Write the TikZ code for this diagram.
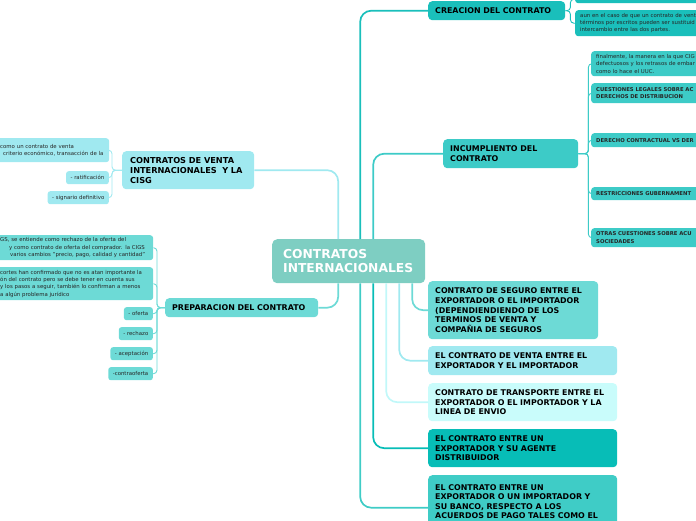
\documentclass[tikz,border=0pt]{standalone}
\usepackage{fontspec}
\setmainfont{DejaVu Sans}

\definecolor{rootc}{HTML}{7ECEC2}
\definecolor{cisgc}{HTML}{A0E9F0}
\definecolor{prepc}{HTML}{6DDAD6}
\definecolor{creac}{HTML}{1ABFBB}
\definecolor{incc}{HTML}{3DCBC7}
\definecolor{transc}{HTML}{C9FCFB}
\definecolor{agentc}{HTML}{07BDB7}
\definecolor{bancoc}{HTML}{3FCCC6}

\begin{document}
\begin{tikzpicture}[x=1pt,y=-1pt,
  box/.style={anchor=north west, rounded corners=4pt, align=left, inner xsep=7pt, inner ysep=2pt,
    text=black, font=\bfseries\fontsize{7.9}{9.6}\selectfont},
  note/.style={anchor=north west, rounded corners=3pt, align=left, inner xsep=5pt, inner ysep=1pt,
    text=black!85, font=\fontsize{5.4}{7.3}\selectfont},
  capnote/.style={note, font=\bfseries\fontsize{5.3}{7.3}\selectfont},
  tag/.style={anchor=north east, rounded corners=2.5pt, inner xsep=4.5pt, inner ysep=0pt,
    minimum height=13pt, text=black!85, font=\fontsize{5.4}{7}\selectfont},
  lk/.style={line width=1.7pt, rounded corners=11pt},
  sub/.style={line width=0.9pt, rounded corners=3.5pt}]

\useasboundingbox (0,0) rectangle (696,520);
\clip (0,0) rectangle (696,520);

\node[anchor=north west, rounded corners=5pt, fill=rootc, text=white, align=left, inner xsep=11pt,
  text width=131pt, minimum height=44pt, font=\bfseries\fontsize{12.3}{13.5}\selectfont]
  (root) at (272,239) {CONTRATOS\\INTERNACIONALES};

\node[box, fill=cisgc, inner xsep=8pt, text width=116pt, minimum height=38pt,
  font=\bfseries\fontsize{8.2}{10}\selectfont]
  (cisg) at (122,151) {CONTRATOS DE VENTA\\INTERNACIONALES~ Y LA\\CISG};
\node[note, fill=cisgc, text width=104pt, minimum height=24pt] (cv1) at (-5,138)
  {como un contrato de venta\\\hspace*{3pt}criterio económico, transacción de la};
\node[tag, fill=cisgc] (cv2) at (109,171) {- ratificación};
\node[tag, fill=cisgc] (cv3) at (109,191) {- signario definitivo};

\node[box, fill=prepc, text width=139pt, minimum height=19pt] (prep) at (165,298) {PREPARACION DEL CONTRATO};
\node[note, fill=prepc, text width=148pt, minimum height=25pt] (pr1) at (-5,235)
  {GS, se entiende como rechazo de la oferta del\\
   \hspace*{9pt}y como contrato de oferta del comprador. la CIGS\\
   \hspace*{10pt}varios cambios "precio, pago, calidad y cantidad"};
\node[note, fill=prepc, text width=148pt, minimum height=33pt] (pr2) at (-5,267)
  {cortes han confirmado que no es atan importante la\\
   ón del contrato pero se debe tener en cuenta sus\\
   y los pasos a seguir, también lo confirman a menos\\
   a algún problema jurídico};
\node[tag, fill=prepc] (pr3) at (153,307) {- oferta};
\node[tag, fill=prepc] (pr4) at (153,327) {- rechazo};
\node[tag, fill=prepc] (pr5) at (153,347) {- aceptación};
\node[tag, fill=prepc] (pr6) at (153,367) {-contraoferta};

\node[box, fill=creac, text width=123pt, minimum height=19pt] (crea) at (428,1) {CREACION DEL CONTRATO};
\node[note, fill=creac, text width=150pt, minimum height=8pt] (cr1) at (575,-5) {};
\node[note, fill=creac, text width=150pt, minimum height=26pt] (cr2) at (575,10)
  {aun en el caso de que un contrato de vent\\
   términos por escritos pueden ser sustituid\\
   intercambio entre las dos partes.};

\node[box, fill=incc, text width=121pt, minimum height=29pt] (inc) at (443,139) {INCUMPLIENTO DEL\\CONTRATO};
\node[note, fill=incc, text width=150pt, minimum height=25pt] (ic1) at (591,51)
  {finalmente, la manera en la que CIG\\defectuosos y los retrasos de embar\\como lo hace el UUC.};
\node[capnote, fill=incc, text width=150pt, minimum height=20pt] (ic2) at (591,83)
  {CUESTIONES LEGALES SOBRE AC\\DERECHOS DE DISTRIBUCION};
\node[capnote, fill=incc, text width=150pt, minimum height=14pt] (ic3) at (591,133) {DERECHO CONTRACTUAL VS DER};
\node[capnote, fill=incc, text width=150pt, minimum height=13pt] (ic4) at (591,187) {RESTRICCIONES GUBERNAMENT};
\node[capnote, fill=incc, text width=150pt, minimum height=19pt] (ic5) at (591,228)
  {OTRAS CUESTIONES SOBRE ACU\\SOCIEDADES};

\node[box, fill=prepc, text width=156pt, minimum height=58pt] (seg) at (428,281)
  {CONTRATO DE SEGURO ENTRE EL\\EXPORTADOR O EL IMPORTADOR\\(DEPENDIENDIENDO DE LOS\\TERMINOS DE VENTA Y\\COMPAÑIA DE SEGUROS};
\node[box, fill=cisgc, text width=175pt, minimum height=29pt] (venta) at (428,346)
  {EL CONTRATO DE VENTA ENTRE EL\\EXPORTADOR Y EL IMPORTADOR};
\node[box, fill=transc, text width=175pt, minimum height=38pt] (trans) at (428,383)
  {CONTRATO DE TRANSPORTE ENTRE EL\\EXPORTADOR O EL IMPORTADOR Y LA\\LINEA DE ENVIO};
\node[box, fill=agentc, text width=175pt, minimum height=38pt] (agent) at (428,429)
  {EL CONTRATO ENTRE UN\\EXPORTADOR Y SU AGENTE\\DISTRIBUIDOR};
\node[box, fill=bancoc, text width=175pt, minimum height=65pt] (banco) at (428,475)
  {EL CONTRATO ENTRE UN\\EXPORTADOR O UN IMPORTADOR Y\\SU BANCO, RESPECTO A LOS\\ACUERDOS DE PAGO TALES COMO EL\\\strut};

\draw[lk, cisgc] ([xshift=-10.5pt]root.north) |- (cisg.east);
\draw[lk, creac] ([xshift=11.5pt]root.north) |- (crea.west);
\draw[lk, incc] ([xshift=24.5pt]root.north) |- (inc.west);
\draw[lk, prepc] ([xshift=-10.5pt]root.south) |- (prep.east);
\draw[lk, bancoc] ([xshift=11.5pt]root.south) |- (banco.west);
\draw[lk, agentc] ([xshift=24.5pt]root.south) |- (agent.west);
\draw[lk, transc!80!cisgc] ([xshift=37.5pt]root.south) |- (trans.west);
\draw[lk, cisgc] ([xshift=50.5pt]root.south) |- (venta.west);
\draw[lk, prepc] ([xshift=63.5pt]root.south) |- (seg.west);

\foreach \k in {cv1,cv2,cv3}
  \draw[sub, cisgc] (cisg.west) -- ++(-10,0) |- (\k.east);
\foreach \k in {pr1,pr2,pr3,pr4,pr5,pr6}
  \draw[sub, prepc] (prep.west) -- ++(-8,0) |- (\k.east);
\foreach \k in {cr1,cr2}
  \draw[sub, creac] (crea.east) -- ++(5,0) |- (\k.west);
\foreach \k in {ic1,ic2,ic3,ic4,ic5}
  \draw[sub, incc] (inc.east) -- ++(10,0) |- (\k.west);

\end{tikzpicture}
\end{document}
